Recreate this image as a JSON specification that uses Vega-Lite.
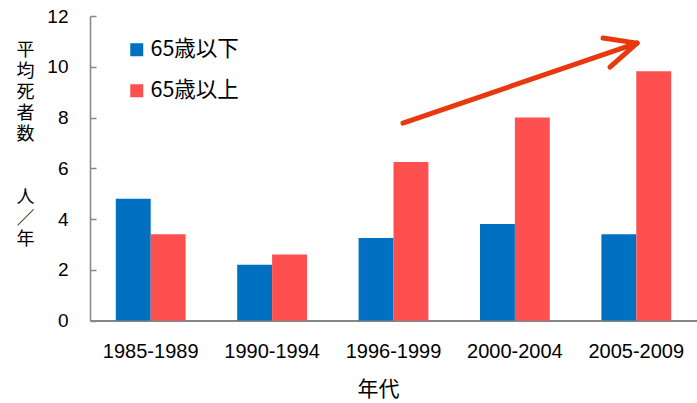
{
  "$schema": "https://vega.github.io/schema/vega-lite/v6.json",
  "autosize": {"type": "none"},
  "padding": {"left": 90, "top": 16, "right": 0, "bottom": 82.5},
  "width": 607,
  "height": 304.5,
  "config": {
    "view": {"stroke": null},
    "font": "Liberation Sans, Noto Sans CJK JP",
    "text": {"font": "Liberation Sans, Noto Sans CJK JP"}
  },
  "datasets": {
    "bars": [
      {"period": "1985-1989", "group": "65歳以下", "value": 4.8},
      {"period": "1985-1989", "group": "65歳以上", "value": 3.4},
      {"period": "1990-1994", "group": "65歳以下", "value": 2.2},
      {"period": "1990-1994", "group": "65歳以上", "value": 2.6},
      {"period": "1996-1999", "group": "65歳以下", "value": 3.25},
      {"period": "1996-1999", "group": "65歳以上", "value": 6.25},
      {"period": "2000-2004", "group": "65歳以下", "value": 3.8},
      {"period": "2000-2004", "group": "65歳以上", "value": 8.0},
      {"period": "2005-2009", "group": "65歳以下", "value": 3.4},
      {"period": "2005-2009", "group": "65歳以上", "value": 9.82}
    ],
    "arrow": [
      {"x1": 2.578, "y1": 7.78, "x2": 4.506, "y2": 10.93},
      {"x1": 4.283, "y1": 9.99, "x2": 4.506, "y2": 10.93},
      {"x1": 4.226, "y1": 11.13, "x2": 4.506, "y2": 10.93}
    ]
  },
  "layer": [
    {
      "data": {"name": "bars"},
      "mark": {"type": "bar"},
      "encoding": {
        "x": {
          "field": "period",
          "type": "nominal",
          "sort": null,
          "scale": {"paddingInner": 0.425, "paddingOuter": 0.2125},
          "axis": {
            "title": "年代",
            "labelAngle": 0,
            "ticks": false,
            "domainColor": "#868686",
            "domainWidth": 2,
            "labelFontSize": 20,
            "labelColor": "#000000",
            "labelPadding": 21,
            "labelFont": "Liberation Sans",
            "titleFontSize": 21,
            "titleFontWeight": "normal",
            "titleColor": "#000000",
            "titlePadding": 17,
            "titleX": 288,
            "titleFont": "Noto Sans CJK JP"
          }
        },
        "xOffset": {"field": "group", "type": "nominal", "sort": ["65歳以下", "65歳以上"]},
        "y": {
          "field": "value",
          "type": "quantitative",
          "scale": {"domain": [0, 12], "nice": false},
          "axis": {
            "values": [0, 2, 4, 6, 8, 10, 12],
            "grid": false,
            "domainColor": "#868686",
            "domainWidth": 1.5,
            "tickColor": "#868686",
            "tickWidth": 1.5,
            "tickSize": -6,
            "labelPadding": 28,
            "labelFontSize": 19,
            "labelColor": "#000000",
            "labelFont": "Liberation Sans",
            "title": ["平", "均", "死", "者", "数", "\u200b", "\u200b", "人", "／", "年"],
            "titleAngle": 0,
            "titleAlign": "center",
            "titleBaseline": "top",
            "titleX": -65,
            "titleY": 25,
            "titleFontSize": 18,
            "titleLineHeight": 21,
            "titleFontWeight": "normal",
            "titleColor": "#000000",
            "titleFont": "Noto Sans CJK JP"
          }
        },
        "color": {
          "field": "group",
          "type": "nominal",
          "scale": {"domain": ["65歳以下", "65歳以上"], "range": ["#0070C0", "#FF5050"]},
          "legend": {
            "title": null,
            "orient": "none",
            "legendX": 36,
            "legendY": 23,
            "symbolType": "square",
            "symbolSize": 169,
            "symbolStrokeWidth": 0,
            "labelFontSize": 21.5,
            "labelFont": "Noto Sans CJK JP",
            "labelColor": "#000000",
            "labelOffset": 3,
            "rowPadding": 18,
            "padding": 0
          }
        }
      }
    },
    {
      "data": {"name": "arrow"},
      "mark": {"type": "rule", "color": "#E8380D", "strokeWidth": 5, "strokeCap": "round"},
      "encoding": {
        "x": {"field": "x1", "type": "quantitative", "scale": {"domain": [0, 5], "nice": false}, "axis": null},
        "x2": {"field": "x2"},
        "y": {"field": "y1", "type": "quantitative"},
        "y2": {"field": "y2"}
      }
    }
  ],
  "resolve": {"scale": {"x": "independent"}}
}
